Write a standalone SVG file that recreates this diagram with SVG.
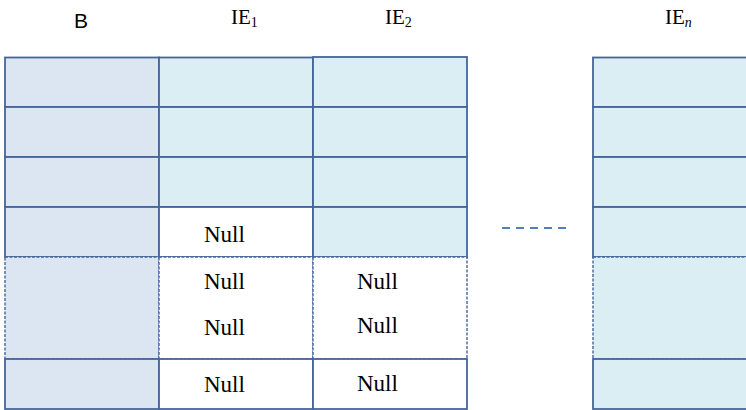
<svg xmlns="http://www.w3.org/2000/svg" width="746" height="410" viewBox="0 0 746 410">
<style>
.b{fill:#DCE6F2;stroke:#45659A;stroke-width:1.8}
.c{fill:#DAEEF3;stroke:#45659A;stroke-width:1.8}
.w{fill:#FFFFFF;stroke:#45659A;stroke-width:1.8}
.bd{fill:#DCE6F2;stroke:#45659A;stroke-width:1.4;stroke-dasharray:3 1.5}
.cd{fill:#DAEEF3;stroke:#45659A;stroke-width:1.4;stroke-dasharray:3 1.5}
.wd{fill:#FFFFFF;stroke:#45659A;stroke-width:1.4;stroke-dasharray:3 1.5}
.t{font-family:"Liberation Serif","Times New Roman",serif;font-size:23px;fill:#000}
.h{font-family:"Liberation Serif","Times New Roman",serif;font-size:21px;fill:#000}
.s{font-size:14px}
</style>
<g id="header">
<text x="74" y="28" font-family="'Liberation Sans',Arial,sans-serif" font-size="21" fill="#000">B</text>
<text class="h" x="231" y="24">IE<tspan class="s" dy="3">1</tspan></text>
<text class="h" x="385" y="24">IE<tspan class="s" dy="3">2</tspan></text>
<text class="h" x="665" y="24">IE<tspan class="s" dy="3" font-style="italic">n</tspan></text>
</g>
<g id="colB">
<rect class="b" x="5" y="57.5" width="154" height="49.5"/>
<rect class="b" x="5" y="107" width="154" height="50"/>
<rect class="b" x="5" y="157" width="154" height="50"/>
<rect class="b" x="5" y="207" width="154" height="50"/>
<rect class="bd" x="5" y="257" width="154" height="102"/>
<rect class="b" x="5" y="359" width="154" height="50"/>
</g>
<g id="colIE1">
<rect class="c" x="159" y="57.5" width="154" height="49.5"/>
<rect class="c" x="159" y="107" width="154" height="50"/>
<rect class="c" x="159" y="157" width="154" height="50"/>
<rect class="w" x="159" y="207" width="154" height="50"/>
<rect class="wd" x="159" y="257" width="154" height="102"/>
<rect class="w" x="159" y="359" width="154" height="50"/>
<text class="t" x="204" y="242">Null</text>
<text class="t" x="204" y="289">Null</text>
<text class="t" x="204" y="335">Null</text>
<text class="t" x="204" y="392">Null</text>
</g>
<g id="colIE2">
<rect class="c" x="313" y="57" width="154" height="50"/>
<rect class="c" x="313" y="107" width="154" height="50"/>
<rect class="c" x="313" y="157" width="154" height="50"/>
<rect class="c" x="313" y="207" width="154" height="50"/>
<rect class="wd" x="313" y="257" width="154" height="102"/>
<rect class="w" x="313" y="359" width="154" height="50"/>
<text class="t" x="357" y="289">Null</text>
<text class="t" x="357" y="333">Null</text>
<text class="t" x="357" y="391">Null</text>
</g>
<g id="colIEn">
<rect class="c" x="593" y="57.5" width="160" height="49.5"/>
<rect class="c" x="593" y="107" width="160" height="50"/>
<rect class="c" x="593" y="157" width="160" height="50"/>
<rect class="c" x="593" y="207" width="160" height="50"/>
<rect class="cd" x="593" y="257" width="160" height="102"/>
<rect class="c" x="593" y="359" width="160" height="50"/>
</g>
<g id="connectors">
<line x1="502" y1="228" x2="567" y2="228" stroke="#4F81BD" stroke-width="2" stroke-dasharray="8 6"/>
</g>
</svg>
